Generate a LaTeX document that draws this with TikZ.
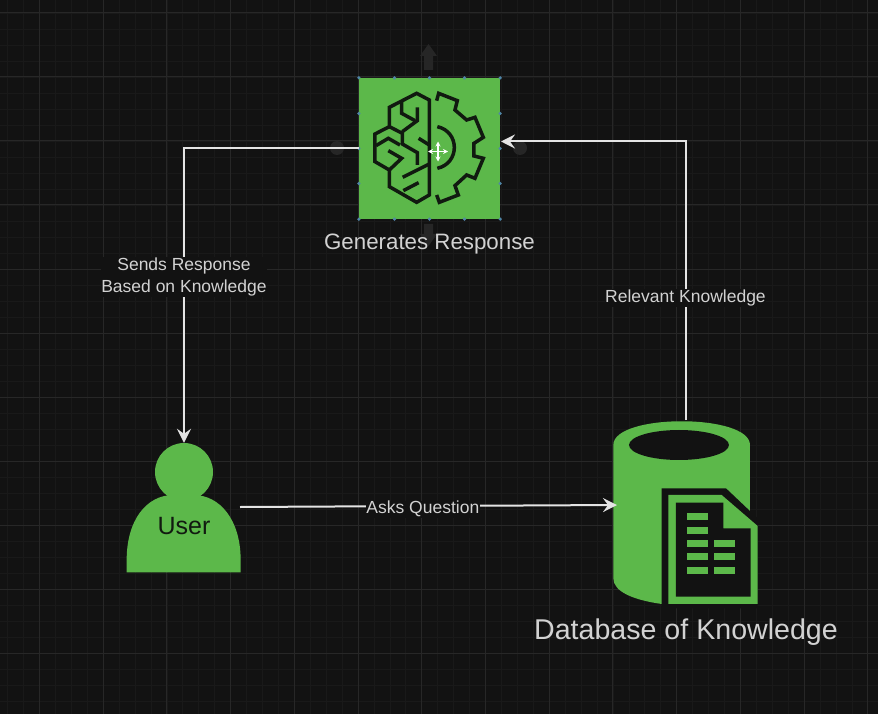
\documentclass[tikz,border=0pt]{standalone}
\usepackage{fontspec}
\setmainfont{Liberation Sans}
\usetikzlibrary{arrows.meta}
\usetikzlibrary{calc}
\usepackage{xcolor}

\definecolor{canvas}{HTML}{121212}
\definecolor{leaf}{HTML}{5CB84A}
\definecolor{wire}{HTML}{E4E4E4}
\definecolor{caption}{HTML}{D2D2D2}
\definecolor{ink}{HTML}{111A10}
\definecolor{ghost}{HTML}{262626}
\definecolor{handle}{HTML}{4F86A8}

\tikzset{
  flow/.style={wire, line width=2pt, -{Stealth[length=14pt,width=14pt,inset=5pt]}},
  edgetext/.style={fill=canvas, text=caption, font=\fontsize{17.5}{22.5}\selectfont, align=center, inner sep=0.5pt},
  iconline/.style={ink, line width=3.5pt, line join=miter},
  cursorline/.style={white, line width=1.4pt, {Stealth[length=5pt,width=5pt]}-{Stealth[length=5pt,width=5pt]}},
  dot/.style={handle, fill=handle, inner sep=0pt, minimum size=3.5pt, circle}
}

\begin{document}
\begin{tikzpicture}[x=1pt,y=-1pt]

        % Canvas
        \fill[canvas] (0,0) rectangle (878,714);
        \useasboundingbox (0,0) rectangle (878,714);

        % Minor grid
        \foreach \i in {0,1,...,55}
        {
          \draw[white!3!canvas, line width=0.8pt] ({-8.3+15.93*\i},0) -- ({-8.3+15.93*\i},714);
        }
        \foreach \i in {0,1,...,45}
        {
          \draw[white!3!canvas, line width=0.8pt] (0,{-3+16*\i}) -- (878,{-3+16*\i});
        }

        % Major grid
        \foreach \i in {0,1,...,13}
        {
          \draw[white!9!canvas, line width=1pt] ({39.4+63.72*\i},0) -- ({39.4+63.72*\i},714);
        }
        \foreach \i in {0,1,...,10}
        {
          \draw[white!9!canvas, line width=1pt] (0,{13+64*\i}) -- (878,{13+64*\i});
        }

        % Hover arrows round the box
        \fill[ghost] (428.5,44) -- (437,56) -- (433,56) -- (433,70) -- (424,70) -- (424,56) -- (420,56) -- cycle;
        \fill[ghost] (428.5,246) -- (437,234) -- (433,234) -- (433,224) -- (424,224) -- (424,234) -- (420,234) -- cycle;
        \fill[ghost] (337,148) circle [radius=7pt];
        \fill[ghost] (520,148) circle [radius=7pt];

        % Response box
        \node[fill=leaf, minimum size=141pt, inner sep=0pt] (gen) at (429.5,148.5) {};
        \node[text=caption, font=\fontsize{22.3}{26}\selectfont] (gentext) at (429.5,244.5) {Generates Response};

        % Handles
        \foreach \a in {north west,north,north east,east,south east,south,south west,west}
        {
          \node[dot] at (gen.\a) {};
        }
        \foreach \s in {-1,1}
        {
          \node[dot] at ($(gen.north)+(\s*35,0)$) {};
          \node[dot] at ($(gen.south)+(\s*35,0)$) {};
          \node[dot] at ($(gen.west)+(0,\s*35)$) {};
          \node[dot] at ($(gen.east)+(0,\s*35)$) {};
        }

        % Brain
        \begin{scope}[shift={(320,30)},x=0.3333pt,y=-0.3333pt]
          \draw[iconline] (328,210) -- (290,190) -- (208,232) -- (208,290) -- (165,312) -- (165,395)
            -- (208,420) -- (208,470) -- (290,517) -- (328,495) -- cycle;
          \draw[iconline] (245,215) -- (245,250) -- (285,272);
          \draw[iconline] (292,232) -- (292,272) -- (247,305);
          \draw[iconline] (208,290) -- (247,310) -- (247,342) -- (292,368) -- (292,405);
          \draw[iconline] (296,325) -- (328,345);
          \draw[iconline] (168,347) -- (205,325) -- (240,345);
          \draw[iconline] (205,362) -- (245,385) -- (208,420);
          \draw[iconline] (248,442) -- (328,402);
          \draw[iconline] (250,482) -- (296,458);
          % Gear
          \draw[iconline] (350,212) -- (356,190) -- (412,212) -- (405,240) -- (440,270) -- (465,262)
            -- (490,322) -- (462,340) -- (462,378) -- (490,385) -- (465,445) -- (440,435) -- (405,467)
            -- (415,495) -- (358,517) -- (350,495);
          \draw[iconline] (352,290) .. controls (420,305) and (420,400) .. (352,415);
        \end{scope}

        % Cursor
        \coordinate (cursor) at (438,151.5);
        \draw[cursorline] ($(cursor)+(-10,0)$) -- ($(cursor)+(10,0)$);
        \draw[cursorline] ($(cursor)+(0,-10)$) -- ($(cursor)+(0,10)$);

        % User
        \begin{scope}[shift={(110,420)},x=0.3333pt,y=-0.3333pt]
          \fill[leaf] (50,457) -- (392,457) -- (392,420) .. controls (392,300) and (330,225) .. (250,225)
            -- (190,225) .. controls (110,225) and (50,300) .. (50,420) -- cycle;
        \end{scope}
        \node[circle, fill=leaf, minimum size=58pt, inner sep=0pt] (head) at (184,472) {};
        \node[text=ink, font=\fontsize{25}{29}\selectfont] (user) at (184,526) {User};

        % Database
        \begin{scope}[shift={(590,400)},x=0.3333pt,y=-0.3333pt]
          \fill[leaf] (70,135) .. controls (70,40) and (480,40) .. (480,135) -- (480,540) -- (215,612)
            .. controls (130,600) and (70,575) .. (70,535) -- cycle;
          \fill[canvas] (267,135) ellipse [x radius=50pt, y radius=15pt];
          \fill[canvas] (215,265) -- (408,265) -- (503,355) -- (503,625) -- (215,625) -- cycle;
          \fill[leaf] (235,285) -- (395,285) -- (503,378) -- (503,612) -- (235,612) -- cycle;
          \fill[canvas] (258,308) -- (400,308) -- (400,385) -- (482,385) -- (482,590) -- (258,590) -- cycle;
          \foreach \y in {338,380,420,460,502}
          {
            \fill[leaf] (290,\y) rectangle (355,\y+21);
          }
          \foreach \y in {420,460,502}
          {
            \fill[leaf] (372,\y) rectangle (436,\y+21);
          }
        \end{scope}
        \node[text=caption, font=\fontsize{28.6}{33}\selectfont] (dbtext) at (686,632.5) {Database of Knowledge};

        % Connector ends
        \coordinate (dbtop) at (685.5,420);
        \coordinate (dbleft) at (617,505);
        \coordinate (userright) at (240,507);
        \coordinate (genright) at (501,141.5);

        % Connectors
        \draw[flow] (gen.west) -| (head.north) node[edgetext, pos=0.718] {Sends Response\\Based on Knowledge};
        \draw[flow] (userright) -- (dbleft) node[edgetext, pos=0.485, yshift=-3pt] {Asks Question};
        \draw[flow] (dbtop) |- (genright) node[edgetext, pos=0.2226, yshift=-2pt] {Relevant Knowledge};

\end{tikzpicture}
\end{document}
